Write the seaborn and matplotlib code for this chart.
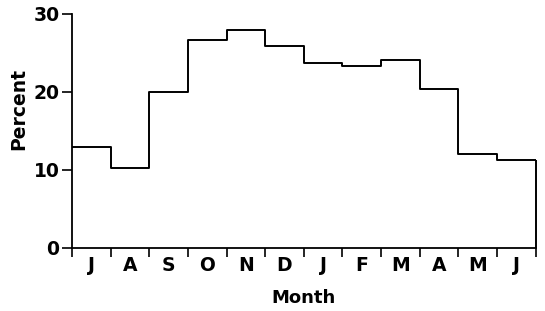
import numpy as np
import pandas as pd
import seaborn as sns
import matplotlib.pyplot as plt

# monthly share, July through June
months = ["J", "A", "S", "O", "N", "D", "J", "F", "M", "A", "M", "J"]
percent = [12.9, 10.3, 20.0, 26.7, 28.0, 25.9, 23.7, 23.3, 24.1, 20.4, 12.05, 11.3]
y_ticks = [0, 10, 20, 30]

sns.set_theme(style="ticks")
plt.rcParams["font.family"] = ["DejaVu Sans"]
plt.rcParams["font.weight"] = "bold"
plt.rcParams["text.color"] = "black"
plt.rcParams["axes.labelcolor"] = "black"
plt.rcParams["xtick.color"] = "black"
plt.rcParams["ytick.color"] = "black"

df = pd.DataFrame({"idx": np.arange(len(months)) + 0.5, "pct": percent})
edges = np.arange(len(months) + 1)

fig = plt.figure(figsize=(5.45, 3.11), dpi=100)
ax = fig.add_axes([0.132, 0.2026, 0.851, 0.7524])

sns.histplot(data=df, x="idx", weights="pct", binwidth=1, binrange=(0, len(months)),
             element="step", fill=False, color="black", linewidth=1.4, ax=ax)
# close the outline on the right down to the axis
ax.vlines(edges[-1], 0, percent[-1], color="black", linewidth=1.4, clip_on=False)

ax.set_xlim(edges[0], edges[-1])
ax.set_ylim(0, 30)
ax.set_yticks(y_ticks)
ax.set_yticklabels([str(v) for v in y_ticks], fontsize=13.5, fontweight="bold")

# tick marks at month boundaries, labels in the middle
ax.set_xticks(edges)
ax.set_xticklabels([""] * len(edges))
ax.set_xticks(edges[:-1] + 0.5, minor=True)
ax.set_xticklabels(months, minor=True, fontsize=13.5, fontweight="bold")
ax.tick_params(axis="x", which="minor", length=0, pad=6)
ax.tick_params(axis="x", which="major", length=6.5, width=1.2)
ax.tick_params(axis="y", length=7, width=1.2, pad=2)

ax.set_xlabel("Month", fontsize=13, fontweight="bold", labelpad=10)
ax.set_ylabel("Percent", fontsize=13.5, fontweight="bold", labelpad=4, y=0.594)

sns.despine(ax=ax)
for s in ["left", "bottom"]:
    ax.spines[s].set_linewidth(1.3)
    ax.spines[s].set_color("black")

fig.savefig("out.png", dpi=100)
